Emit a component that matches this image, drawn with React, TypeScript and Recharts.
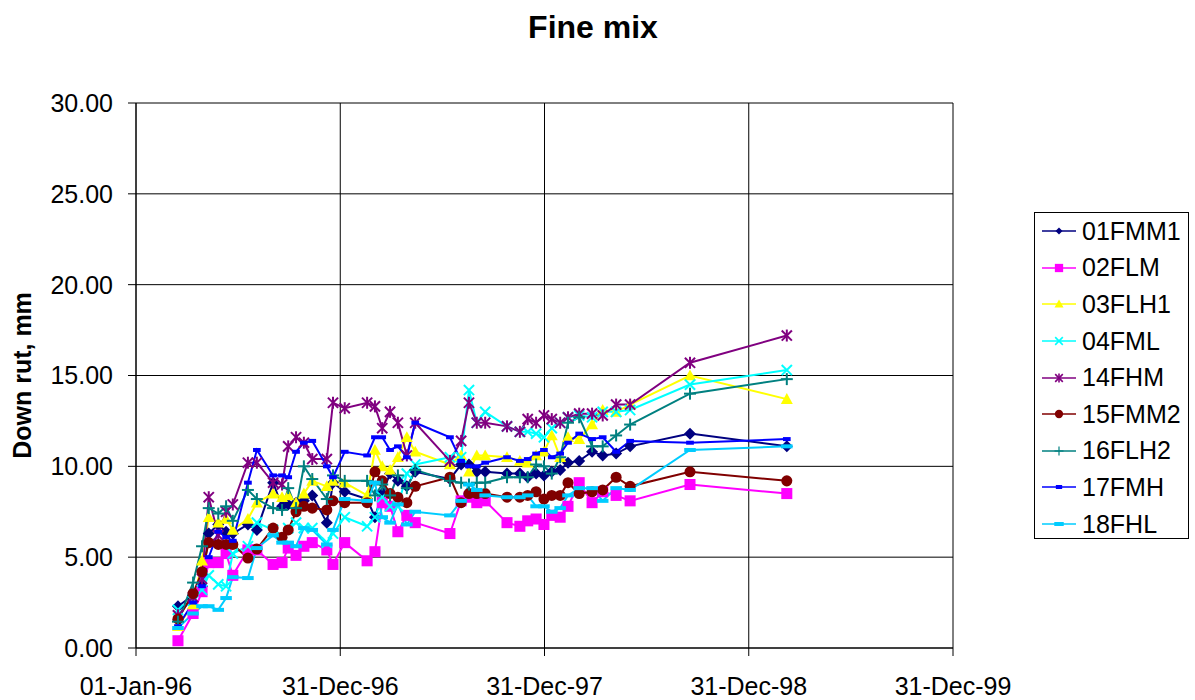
import React from 'react';
import { LineChart, Line, XAxis, YAxis, CartesianGrid, Legend } from 'recharts';

// x axis: days since 01-Jan-96
const dayTicks = [0, 365, 730, 1095, 1460];
const dateTickLabels = ['01-Jan-96', '31-Dec-96', '31-Dec-97', '31-Dec-98', '31-Dec-99'];
const rutTicks = [0, 5, 10, 15, 20, 25, 30];

const surveyDays = [
  75, 102, 118, 130, 147, 161, 173, 200, 216, 245, 261, 272, 286, 300, 315,
  341, 352, 373, 413, 427, 440, 454, 468, 484, 499, 561, 581, 595, 609, 624,
  663, 686, 700, 715, 729, 743, 758, 772, 792, 815, 834, 858, 883, 990, 1163,
];

const s01FMM1 = [
  2.3, 2.9, 3.4, 6.3, 6.8, 6.4, 6.3, 6.8, 6.5, 9.1, 7.8, 7.9, 8.0, 8.1, 8.4,
  6.9, 9.1, 8.6, 8.2, 7.2, 8.5, 9.6, 9.2, 8.9, 9.7, 9.3, 10.1, 10.1, 9.7, 9.7,
  9.6, 9.6, 9.4, 9.6, 9.5, 9.7, 9.8, 10.2, 10.3, 10.8, 10.6, 10.7, 11.1, 11.8, 11.1,
];
const s02FLM = [
  0.4, 1.9, 3.1, 4.7, 4.7, 5.2, 4.0, 5.4, 5.4, 4.6, 4.7, 5.5, 5.1, 5.6, 5.8,
  5.4, 4.6, 5.8, 4.8, 5.3, 8.0, 7.8, 6.4, 7.3, 6.9, 6.3, 8.1, 8.3, 8.0, 8.1,
  6.9, 6.7, 7.0, 7.1, 6.8, 7.3, 7.2, 7.8, 9.1, 8.0, 8.6, 8.4, 8.1, 9.0, 8.5,
];
const s03FLH1 = [
  1.2, 2.4, 4.8, 7.2, 6.9, 7.1, 6.5, 7.1, 8.0, 8.5, 8.3, 8.4, 8.0, 8.5, 9.2,
  8.9, 9.2, 9.1, 8.4, 10.9, 10.0, 9.8, 10.5, 11.6, 10.8, 10.1, 10.6, 9.7, 10.6, 10.6,
  10.5, 10.3, 10.2, 10.6, 10.8, 11.7, 10.5, 11.6, 11.5, 12.3, 13.1, 13.0, 13.4, 15.0, 13.7,
];
const s04FML = [
  2.1, 2.6, 3.2, 4.0, 3.5, 3.4, 5.2, 5.6, 6.9, 6.5, 6.1, 6.6, 6.9, 6.6, 6.6,
  5.8, 6.3, 7.2, 6.7, 7.2, 8.3, 7.8, 7.8, 9.6, 10.1, 10.5, 10.5, 14.2, 12.4, 13.0,
  12.2, 11.9, 11.9, 11.8, 11.6, 12.1, 12.4, 12.7, 12.8, 12.7, 13.0, 13.0, 13.1, 14.5, 15.3,
];
const s14FHM = [
  1.8, 2.8, 3.8, 8.3, 6.2, 7.5, 7.9, 10.2, 10.2, 9.1, 9.0, 11.1, 11.6, 11.3, 10.4,
  10.4, 13.5, 13.2, 13.5, 13.3, 12.1, 13.0, 12.4, 10.6, 12.4, 10.3, 11.4, 13.5, 12.4, 12.4,
  12.2, 11.9, 12.6, 12.4, 12.8, 12.6, 12.4, 12.7, 12.9, 12.9, 12.8, 13.4, 13.4, 15.7, 17.2,
];
const s15FMM2 = [
  1.6, 3.0, 4.2, 5.8, 5.7, 5.7, 5.7, 4.95, 5.45, 6.6, 6.1, 6.5, 7.5, 7.8, 7.7,
  7.6, 8.1, 8.0, 8.0, 9.7, 9.2, 8.5, 8.3, 8.0, 8.9, 9.4, 8.0, 8.5, 8.5, 8.5,
  8.3, 8.3, 8.4, 8.6, 8.2, 8.4, 8.4, 9.1, 8.5, 8.6, 8.7, 9.4, 8.9, 9.7, 9.2,
];
const s16FLH2 = [
  1.45, 3.6, 5.6, 7.7, 7.4, 7.8, 7.0, 8.7, 8.2, 7.7, 7.6, 8.8, 7.7, 10.0, 9.3,
  8.2, 9.5, 9.2, 9.2, 8.4, 9.0, 8.4, 9.5, 8.8, 9.8, 9.2, 9.1, 9.0, 9.1, 9.1,
  9.4, 9.4, 9.4, 10.1, 10.0, 9.6, 10.5, 12.4, 12.7, 11.1, 11.1, 11.7, 12.3, 14.0, 14.8,
];
const s17FMH = [
  1.2, 2.5, 3.4, 5.0, 6.4, 6.1, 5.9, 9.1, 10.9, 9.5, 9.5, 9.4, 10.8, 11.3, 11.4,
  10.0, 9.4, 10.8, 10.6, 11.6, 11.6, 10.9, 11.1, 10.5, 12.4, 11.6, 10.3, 10.0, 10.0, 10.2,
  10.5, 10.3, 10.4, 10.7, 10.9, 10.5, 10.7, 11.3, 11.8, 11.5, 11.6, 10.8, 11.4, 11.3, 11.5,
];
const s18FHL = [
  1.1, 1.9, 2.3, 2.3, 2.1, 2.75, 3.9, 3.85, 5.5, 6.2, 5.8, 5.8, 5.6, 6.6, 6.5,
  5.7, 6.5, 8.2, 8.1, 9.1, 7.2, 6.9, 7.9, 6.8, 7.5, 7.3, 8.1, 9.0, 8.7, 8.4,
  8.3, 8.3, 8.4, 7.8, 7.8, 7.5, 7.7, 8.4, 8.8, 8.8, 8.1, 8.8, 8.7, 10.9, 11.1,
];

const seriesNames = ['01FMM1', '02FLM', '03FLH1', '04FML', '14FHM', '15FMM2', '16FLH2', '17FMH', '18FHL'];
const seriesValues = [s01FMM1, s02FLM, s03FLH1, s04FML, s14FHM, s15FMM2, s16FLH2, s17FMH, s18FHL];
const seriesColors = ['#000080', '#FF00FF', '#FFFF00', '#00FFFF', '#800080', '#800000', '#008080', '#0000FF', '#00CCFF'];
const seriesMarkers = ['diamond', 'square', 'triangle', 'x', 'star', 'circle', 'plus', 'dashShort', 'dashLong'];

const data = surveyDays.map((d, i) => {
  const row: Record<string, number> = { day: d };
  seriesNames.forEach((n, k) => {
    row[n] = seriesValues[k][i];
  });
  return row;
});

const FONT = "'Liberation Sans', Arial, Helvetica, sans-serif";

function Marker({ shape, color, cx, cy, h, sw }: { shape: string; color: string; cx: number; cy: number; h: number; sw: number }) {
  switch (shape) {
    case 'diamond':
      return <polygon points={`${cx},${cy - h} ${cx + h},${cy} ${cx},${cy + h} ${cx - h},${cy}`} fill={color} />;
    case 'square':
      return <rect x={cx - h * 0.92} y={cy - h * 0.92} width={h * 1.84} height={h * 1.84} fill={color} />;
    case 'triangle':
      return <polygon points={`${cx},${cy - h} ${cx + h},${cy + h * 0.8} ${cx - h},${cy + h * 0.8}`} fill={color} />;
    case 'x':
      return (
        <g stroke={color} strokeWidth={sw}>
          <line x1={cx - h * 0.85} y1={cy - h * 0.85} x2={cx + h * 0.85} y2={cy + h * 0.85} />
          <line x1={cx - h * 0.85} y1={cy + h * 0.85} x2={cx + h * 0.85} y2={cy - h * 0.85} />
        </g>
      );
    case 'star':
      return (
        <g stroke={color} strokeWidth={sw}>
          <line x1={cx - h * 0.85} y1={cy - h * 0.85} x2={cx + h * 0.85} y2={cy + h * 0.85} />
          <line x1={cx - h * 0.85} y1={cy + h * 0.85} x2={cx + h * 0.85} y2={cy - h * 0.85} />
          <line x1={cx} y1={cy - h} x2={cx} y2={cy + h} />
        </g>
      );
    case 'circle':
      return <circle cx={cx} cy={cy} r={h * 0.92} fill={color} />;
    case 'plus':
      return (
        <g stroke={color} strokeWidth={sw}>
          <line x1={cx - h} y1={cy} x2={cx + h} y2={cy} />
          <line x1={cx} y1={cy - h} x2={cx} y2={cy + h} />
        </g>
      );
    case 'dashShort':
      return <rect x={cx - h * 0.7} y={cy - 2} width={h * 1.4} height={4} fill={color} />;
    case 'dashLong':
      return <rect x={cx - h * 1.05} y={cy - 2} width={h * 2.1} height={4} fill={color} />;
    default:
      return null;
  }
}

function LegendContent() {
  return (
    <div
      style={{
        width: 155,
        height: 327,
        border: '1px solid #000',
        background: '#fff',
        boxSizing: 'border-box',
        fontFamily: FONT,
        fontSize: 25,
        color: '#000',
      }}
    >
      {seriesNames.map((n, k) => (
        <div key={n} style={{ display: 'flex', alignItems: 'center', height: 36.6, whiteSpace: 'nowrap' }}>
          <svg width={46} height={20} style={{ flex: 'none' }}>
            <line x1={7} y1={10} x2={41} y2={10} stroke={seriesColors[k]} strokeWidth={1.6} />
            <Marker shape={seriesMarkers[k]} color={seriesColors[k]} cx={24} cy={10} h={seriesMarkers[k] === 'diamond' ? 3.5 : 4.5} sw={seriesMarkers[k] === 'plus' ? 1.2 : 1.6} />
          </svg>
          <span style={{ marginLeft: 1, lineHeight: '25px' }}>{n}</span>
        </div>
      ))}
    </div>
  );
}

export default function App() {
  return (
    <div style={{ position: 'absolute', left: 0, top: 0, width: 1195, height: 700, background: '#fff', fontFamily: FONT }}>
      <div
        style={{
          position: 'absolute',
          left: 0,
          top: 11,
          width: 1186,
          textAlign: 'center',
          fontSize: 32,
          lineHeight: '32px',
          fontWeight: 'bold',
          color: '#000',
        }}
      >
        Fine mix
      </div>
      <LineChart
        width={1195}
        height={700}
        data={data}
        margin={{ top: 103, right: 242, bottom: 0, left: 0 }}
        style={{ fontFamily: FONT }}
      >
        <CartesianGrid stroke="#000" strokeWidth={1} horizontal vertical />
        <XAxis
          type="number"
          dataKey="day"
          domain={[0, 1460]}
          ticks={dayTicks}
          interval={0}
          tickFormatter={(v: number) => dateTickLabels[dayTicks.indexOf(v)]}
          tick={{ fontSize: 25, fill: '#000', fontFamily: FONT }}
          tickSize={8}
          tickMargin={21}
          axisLine={{ stroke: '#000' }}
          tickLine={{ stroke: '#000' }}
          height={52}
        />
        <YAxis
          type="number"
          domain={[0, 30]}
          ticks={rutTicks}
          interval={0}
          tickFormatter={(v: number) => v.toFixed(2)}
          tick={{ fontSize: 25, fill: '#000', fontFamily: FONT }}
          tickSize={8}
          tickMargin={15}
          axisLine={{ stroke: '#000' }}
          tickLine={{ stroke: '#000' }}
          width={136}
          label={{
            value: 'Down rut, mm',
            angle: -90,
            position: 'insideLeft',
            offset: 22,
            style: { textAnchor: 'middle', fontSize: 25, fontWeight: 'bold', fill: '#000', fontFamily: FONT },
          }}
        />
        {seriesNames.map((n, k) => (
          <Line
            key={n}
            type="linear"
            dataKey={n}
            name={n}
            stroke={seriesColors[k]}
            strokeWidth={2}
            isAnimationActive={false}
            activeDot={false}
            dot={(p: any) => (
              <Marker
                key={`${n}-${p.index}`}
                shape={seriesMarkers[k]}
                color={seriesColors[k]}
                cx={p.cx}
                cy={p.cy}
                h={seriesMarkers[k] === 'dashShort' || seriesMarkers[k] === 'dashLong' ? 5.5 : 6}
                sw={2}
              />
            )}
          />
        ))}
        <Legend
          layout="vertical"
          align="center"
          verticalAlign="middle"
          content={() => <LegendContent />}
          wrapperStyle={{ left: 1034, top: 212, width: 155, height: 327, bottom: 'auto', right: 'auto', margin: 0 }}
        />
      </LineChart>
    </div>
  );
}
